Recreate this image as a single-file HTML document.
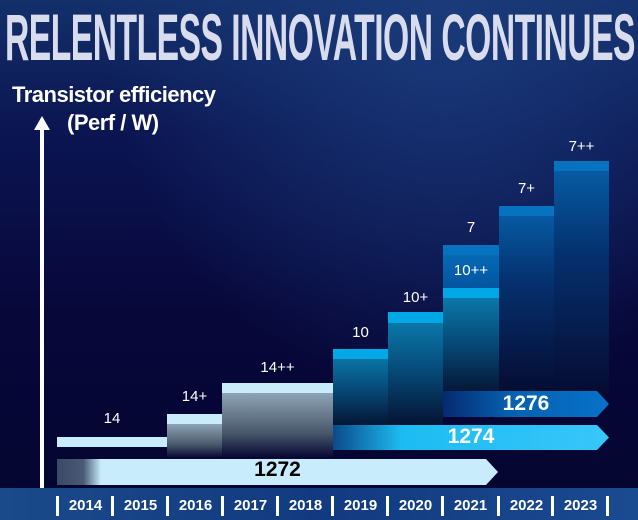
<!DOCTYPE html>
<html><head><meta charset="utf-8"><style>
*{margin:0;padding:0;box-sizing:border-box}
body{width:638px;height:520px;overflow:hidden;background:#0a0a3a;font-family:"Liberation Sans",sans-serif;position:relative}
#bg{position:absolute;inset:0;background:radial-gradient(ellipse at 70% 0%,#1a3a7a 0%,transparent 55%),linear-gradient(180deg,#13306a 0%,#0b1552 25%,#07073a 60%,#050530 100%)}
.a{position:absolute}
.t{position:absolute;color:#fff;font-size:15px;text-align:center}
.title{position:absolute;left:5px;top:4px;font-size:66px;font-weight:bold;color:#d8dcec;letter-spacing:-1px;transform:scaleX(0.51);transform-origin:0 0;white-space:nowrap;line-height:66px}
.cap1{background:#c8ecfb}
.gray{background:linear-gradient(180deg,#8ea3b6 0%,#4a5a6c 60%,rgba(10,10,50,0) 100%)}
.cyan{background:linear-gradient(180deg,#0b82b4 0%,#064a78 50%,#05102f 100%)}
.blue{background:linear-gradient(180deg,#0660aa 0%,#05306e 40%,#050b30 100%)}
.arr{position:absolute;clip-path:polygon(0 0,calc(100% - 12px) 0,100% 50%,calc(100% - 12px) 100%,0 100%)}
.yr{position:absolute;top:497px;color:#fff;font-weight:bold;font-size:15px;width:55px;text-align:center}
.sep{position:absolute;top:496px;width:3px;height:20px;background:#fff}
</style></head><body>
<div id="bg"></div>
<div class="title">RELENTLESS INNOVATION CONTINUES</div>
<div class="a" style="left:12px;top:82px;color:#fff;font-weight:bold;font-size:22px;letter-spacing:-0.5px">Transistor efficiency</div>
<div class="a" style="left:67px;top:110px;color:#fff;font-weight:bold;font-size:22px;letter-spacing:-0.5px">(Perf / W)</div>
<div class="a" style="left:40px;top:128px;width:4px;height:360px;background:#fff"></div>
<div class="a" style="left:34px;top:116px;width:0;height:0;border-left:8px solid transparent;border-right:8px solid transparent;border-bottom:14px solid #fff"></div>

<div class="a cap1" style="left:57px;top:437px;width:110px;height:10px"></div>
<div class="a gray" style="left:167px;top:424px;width:55px;height:34px"></div>
<div class="a cap1" style="left:167px;top:414px;width:55px;height:10px"></div>
<div class="a gray" style="left:222px;top:393px;width:111px;height:65px"></div>
<div class="a cap1" style="left:222px;top:383px;width:111px;height:10px"></div>
<div class="t" style="left:57px;top:410px;width:110px">14</div>
<div class="t" style="left:167px;top:388px;width:55px">14+</div>
<div class="t" style="left:222px;top:359px;width:111px">14++</div>

<div class="a cyan" style="left:333px;top:349px;width:55px;height:80px"></div>
<div class="a" style="left:333px;top:349px;width:55px;height:10px;background:#00a8e6"></div>
<div class="a cyan" style="left:388px;top:312px;width:55px;height:117px"></div>
<div class="a" style="left:388px;top:312px;width:55px;height:11px;background:#00a8e6"></div>
<div class="a cyan" style="left:443px;top:288px;width:56px;height:110px"></div>
<div class="a" style="left:443px;top:288px;width:56px;height:10px;background:#00a8e6"></div>
<div class="a" style="left:443px;top:245px;width:56px;height:43px;background:linear-gradient(180deg,#0670bc,#0554a0)"></div>
<div class="a" style="left:443px;top:245px;width:56px;height:10px;background:#0672c0"></div>
<div class="a blue" style="left:499px;top:206px;width:55px;height:190px"></div>
<div class="a" style="left:499px;top:206px;width:55px;height:10px;background:#0672c0"></div>
<div class="a blue" style="left:554px;top:161px;width:55px;height:235px"></div>
<div class="a" style="left:554px;top:161px;width:55px;height:10px;background:#0672c0"></div>
<div class="t" style="left:333px;top:324px;width:55px">10</div>
<div class="t" style="left:388px;top:289px;width:55px">10+</div>
<div class="t" style="left:443px;top:262px;width:56px">10++</div>
<div class="t" style="left:443px;top:219px;width:56px">7</div>
<div class="t" style="left:499px;top:180px;width:55px">7+</div>
<div class="t" style="left:554px;top:138px;width:55px">7++</div>

<div class="arr" style="left:443px;top:391px;width:166px;height:26px;background:linear-gradient(90deg,#062a70 0%,#0660b0 40%,#0672c8 100%)"></div>
<div class="t" style="left:443px;top:392px;width:166px;font-size:21px;font-weight:bold">1276</div>
<div class="arr" style="left:333px;top:425px;width:276px;height:25px;background:linear-gradient(90deg,#0a4a8a 0%,#1cbcf2 25%,#38c6fa 100%)"></div>
<div class="t" style="left:333px;top:425px;width:276px;font-size:21px;font-weight:bold">1274</div>
<div class="arr" style="left:57px;top:459px;width:441px;height:26px;background:linear-gradient(90deg,#3a4a66 0%,#4a5a76 6%,#c8ecfb 10%,#c8ecfb 100%)"></div>
<div class="t" style="left:57px;top:458px;width:441px;font-size:21px;font-weight:bold;color:#000">1272</div>

<div class="a" style="left:0;top:488px;width:638px;height:32px;background:linear-gradient(90deg,#1a4a8a,#123a80 50%,#1a4a90)"></div>
<div class="sep" style="left:56px"></div><div class="yr" style="left:58px">2014</div>
<div class="sep" style="left:111px"></div><div class="yr" style="left:113px">2015</div>
<div class="sep" style="left:166px"></div><div class="yr" style="left:168px">2016</div>
<div class="sep" style="left:221px"></div><div class="yr" style="left:223px">2017</div>
<div class="sep" style="left:276px"></div><div class="yr" style="left:278px">2018</div>
<div class="sep" style="left:331px"></div><div class="yr" style="left:333px">2019</div>
<div class="sep" style="left:386px"></div><div class="yr" style="left:388px">2020</div>
<div class="sep" style="left:441px"></div><div class="yr" style="left:443px">2021</div>
<div class="sep" style="left:497px"></div><div class="yr" style="left:499px">2022</div>
<div class="sep" style="left:551px"></div><div class="yr" style="left:553px">2023</div>
<div class="sep" style="left:606px"></div>
</body></html>
